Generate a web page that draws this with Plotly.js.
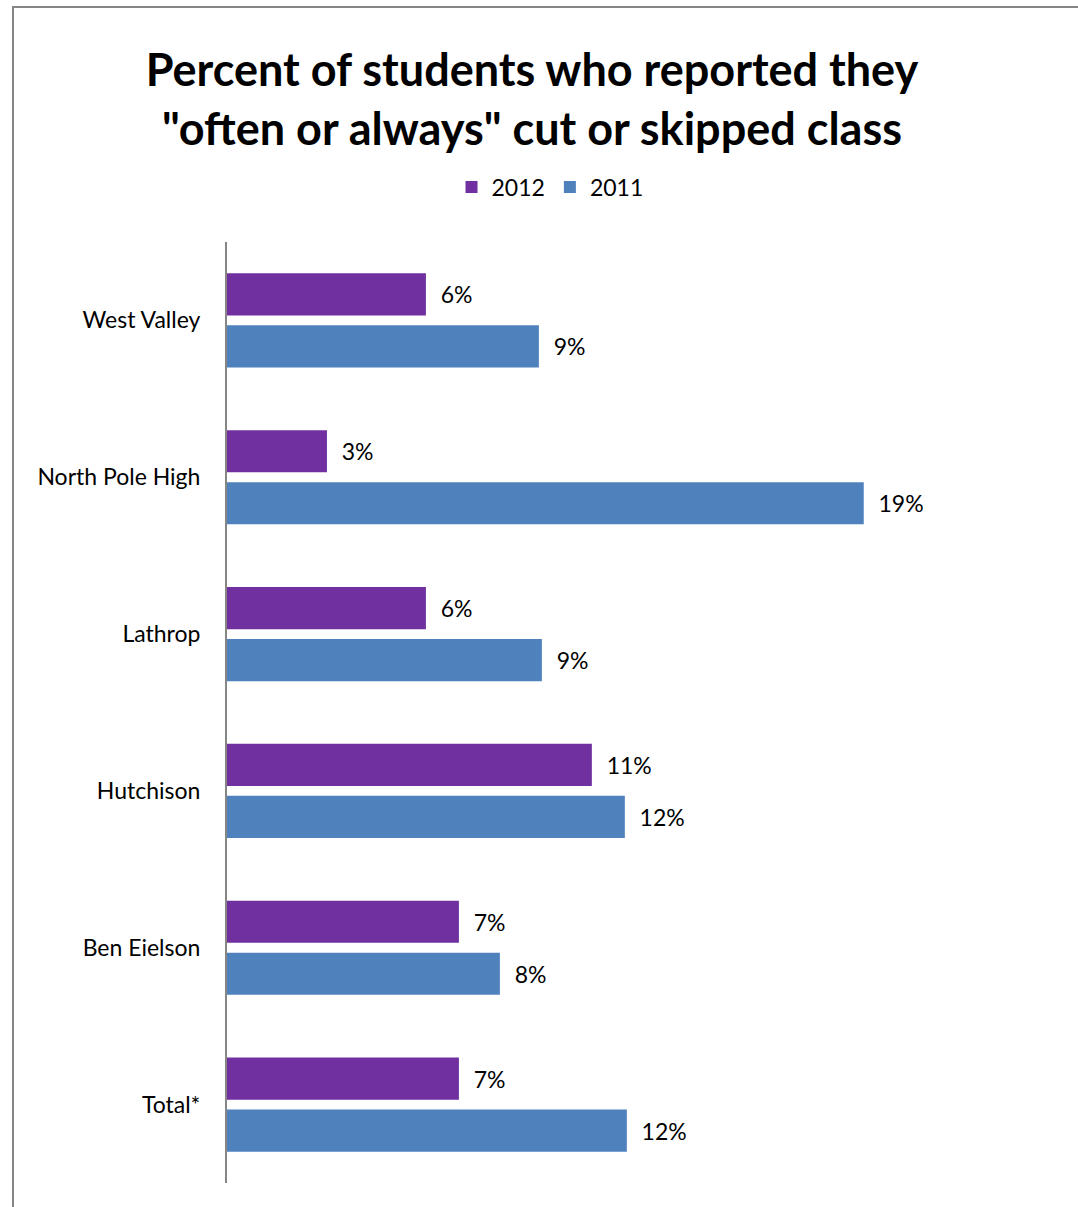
<!DOCTYPE html>
<html>
<head>
<meta charset="utf-8">
<script src="https://cdn.plot.ly/plotly-3.0.1.min.js"></script>
<style>
  html, body { margin: 0; padding: 0; background: #fff; overflow: hidden; width: 1078px; height: 1207px; }
  #wrap { position: absolute; left: 12px; top: 6px; width: 1100px; height: 1250px;
          border-left: 2px solid #868686; border-top: 2px solid #868686; }
  #chart { width: 1100px; height: 1250px; }
</style>
</head>
<body>
<div id="wrap"><div id="chart"></div></div>
<script>
const schools = ["West Valley", "North Pole High", "Lathrop", "Hutchison", "Ben Eielson", "Total*"];
const values2012 = [0.0597, 0.0300, 0.0597, 0.1095, 0.0696, 0.0696];
const values2011 = [0.0936, 0.1911, 0.0945, 0.1194, 0.0819, 0.1200];
const seriesNames = ["2012", "2011"];
const colors = ["#7030A0", "#4F81BD"];

const font = "Lato, 'Open Sans', sans-serif";
const pad = "\u00a0\u00a0";

const traces = [values2012, values2011].map((vals, i) => ({
  type: "bar",
  orientation: "h",
  name: seriesNames[i],
  y: schools,
  x: vals,
  marker: { color: colors[i] },
  texttemplate: pad + "%{x:.0%}",
  textposition: "outside",
  cliponaxis: false,
  textfont: { family: font, size: 23, color: "#000" },
  hoverinfo: "skip"
}));

const layout = {
  width: 1100,
  height: 1250,
  paper_bgcolor: "#fff",
  plot_bgcolor: "#fff",
  margin: { l: 213, r: 54, t: 234, b: 75 },
  barmode: "group",
  bargap: 0.337,
  bargroupgap: 0.19,
  font: { family: font, color: "#000" },
  title: {
    text: "Percent of students who reported they<br>\"often or always\" cut or skipped class",
    font: { family: font, size: 45, color: "#000", weight: "bold" },
    x: 0.4709, xanchor: "center", xref: "container",
    y: 1 - 78 / 1250, yanchor: "middle", yref: "container"
  },
  showlegend: true,
  legend: {
    orientation: "h",
    x: (550 - 14) / 1100, xref: "container", xanchor: "center",
    y: 1 - (187 - 8) / 1250, yref: "container", yanchor: "middle",
    font: { family: font, size: 23, color: "#000" },
    traceorder: "normal",
    itemwidth: 30
  },
  xaxis: {
    range: [0, 0.25],
    showticklabels: false,
    showgrid: false,
    zeroline: false,
    showline: false,
    fixedrange: true
  },
  yaxis: {
    autorange: "reversed",
    showline: true,
    linecolor: "#868686",
    linewidth: 2,
    ticks: "",
    ticklabelstandoff: 20,
    tickfont: { family: font, size: 23, color: "#000" },
    showgrid: false,
    zeroline: false,
    fixedrange: true
  }
};

Plotly.newPlot("chart", traces, layout, { displayModeBar: false, staticPlot: true });
</script>
</body>
</html>
